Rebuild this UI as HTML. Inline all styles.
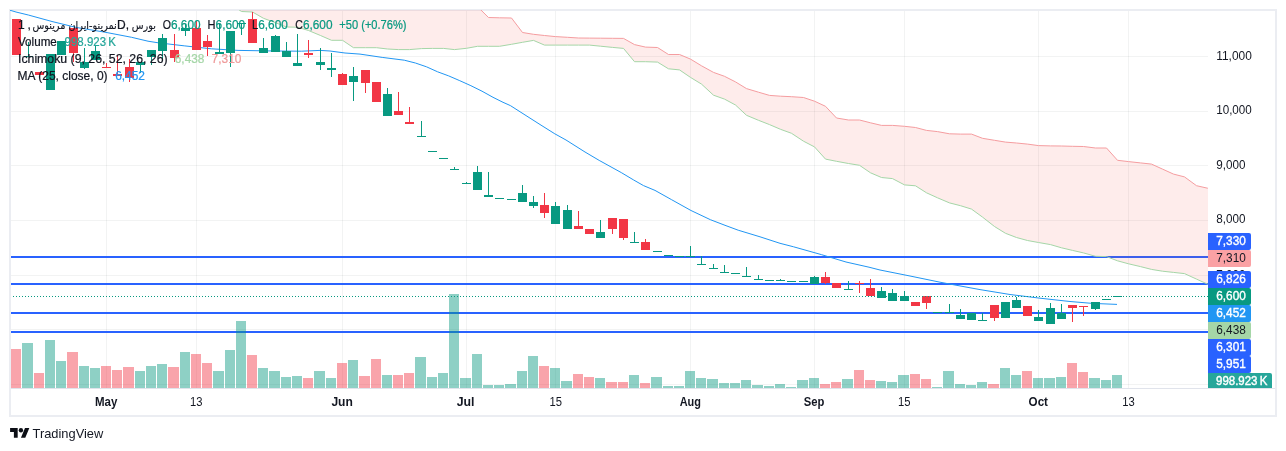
<!DOCTYPE html>
<html lang="en">
<head>
<meta charset="utf-8">
<title>TradingView Chart</title>
<style>
html,body{margin:0;padding:0;background:#fff;}
body{width:1286px;height:451px;position:relative;overflow:hidden;font-family:"Liberation Sans","DejaVu Sans",sans-serif;color:#131722;}
#frame{position:absolute;left:9px;top:9px;width:1264px;height:404px;border:2px solid #ebedf2;}
</style>
</head>
<body>
<div id="frame"></div>
<svg width="1286" height="451" viewBox="0 0 1286 451" style="position:absolute;left:0;top:0">
<defs><clipPath id="pane"><rect x="10" y="10" width="1198" height="378"/></clipPath></defs>
<g shape-rendering="crispEdges" fill="rgba(42,46,57,0.06)">
<rect x="106" y="11" width="1" height="377"/>
<rect x="196" y="11" width="1" height="377"/>
<rect x="342" y="11" width="1" height="377"/>
<rect x="466" y="11" width="1" height="377"/>
<rect x="555" y="11" width="1" height="377"/>
<rect x="690" y="11" width="1" height="377"/>
<rect x="814" y="11" width="1" height="377"/>
<rect x="904" y="11" width="1" height="377"/>
<rect x="1038" y="11" width="1" height="377"/>
<rect x="1128" y="11" width="1" height="377"/>
<rect x="11" y="56" width="1197" height="1"/>
<rect x="11" y="111" width="1197" height="1"/>
<rect x="11" y="165" width="1197" height="1"/>
<rect x="11" y="220" width="1197" height="1"/>
<rect x="11" y="275" width="1197" height="1"/>
<rect x="11" y="329" width="1197" height="1"/>
<rect x="11" y="384" width="1197" height="1"/>
</g>
<g shape-rendering="crispEdges" fill="#2962ff">
<rect x="11" y="256" width="1197" height="2"/>
<rect x="11" y="283" width="1197" height="2"/>
<rect x="11" y="312" width="1197" height="2"/>
<rect x="11" y="331" width="1197" height="2"/>
</g>
<g clip-path="url(#pane)">
<g shape-rendering="crispEdges">
<rect x="11" y="349" width="10" height="39" fill="rgba(242,54,69,0.45)"/>
<rect x="22" y="343" width="11" height="45" fill="rgba(8,153,129,0.46)"/>
<rect x="34" y="373" width="10" height="15" fill="rgba(242,54,69,0.45)"/>
<rect x="45" y="340" width="10" height="48" fill="rgba(8,153,129,0.46)"/>
<rect x="56" y="361" width="10" height="27" fill="rgba(8,153,129,0.46)"/>
<rect x="67" y="352" width="11" height="36" fill="rgba(242,54,69,0.45)"/>
<rect x="79" y="366" width="10" height="22" fill="rgba(8,153,129,0.46)"/>
<rect x="90" y="368" width="10" height="20" fill="rgba(8,153,129,0.46)"/>
<rect x="101" y="366" width="10" height="22" fill="rgba(242,54,69,0.45)"/>
<rect x="112" y="370" width="10" height="18" fill="rgba(242,54,69,0.45)"/>
<rect x="123" y="367" width="11" height="21" fill="rgba(242,54,69,0.45)"/>
<rect x="135" y="371" width="10" height="17" fill="rgba(8,153,129,0.46)"/>
<rect x="146" y="366" width="10" height="22" fill="rgba(8,153,129,0.46)"/>
<rect x="157" y="364" width="10" height="24" fill="rgba(8,153,129,0.46)"/>
<rect x="168" y="367" width="11" height="21" fill="rgba(242,54,69,0.45)"/>
<rect x="180" y="352" width="10" height="36" fill="rgba(8,153,129,0.46)"/>
<rect x="191" y="354" width="10" height="34" fill="rgba(242,54,69,0.45)"/>
<rect x="202" y="363" width="10" height="25" fill="rgba(242,54,69,0.45)"/>
<rect x="213" y="371" width="11" height="17" fill="rgba(8,153,129,0.46)"/>
<rect x="225" y="350" width="10" height="38" fill="rgba(8,153,129,0.46)"/>
<rect x="236" y="321" width="10" height="67" fill="rgba(8,153,129,0.46)"/>
<rect x="247" y="355" width="10" height="33" fill="rgba(242,54,69,0.45)"/>
<rect x="258" y="368" width="10" height="20" fill="rgba(8,153,129,0.46)"/>
<rect x="269" y="371" width="11" height="17" fill="rgba(8,153,129,0.46)"/>
<rect x="281" y="377" width="10" height="11" fill="rgba(8,153,129,0.46)"/>
<rect x="292" y="376" width="10" height="12" fill="rgba(8,153,129,0.46)"/>
<rect x="303" y="378" width="10" height="10" fill="rgba(242,54,69,0.45)"/>
<rect x="314" y="371" width="11" height="17" fill="rgba(8,153,129,0.46)"/>
<rect x="326" y="378" width="10" height="10" fill="rgba(8,153,129,0.46)"/>
<rect x="337" y="363" width="10" height="25" fill="rgba(242,54,69,0.45)"/>
<rect x="348" y="360" width="10" height="28" fill="rgba(8,153,129,0.46)"/>
<rect x="359" y="376" width="11" height="12" fill="rgba(242,54,69,0.45)"/>
<rect x="371" y="359" width="10" height="29" fill="rgba(242,54,69,0.45)"/>
<rect x="382" y="375" width="10" height="13" fill="rgba(8,153,129,0.46)"/>
<rect x="393" y="375" width="10" height="13" fill="rgba(242,54,69,0.45)"/>
<rect x="404" y="373" width="10" height="15" fill="rgba(242,54,69,0.45)"/>
<rect x="415" y="357" width="11" height="31" fill="rgba(8,153,129,0.46)"/>
<rect x="427" y="377" width="10" height="11" fill="rgba(8,153,129,0.46)"/>
<rect x="438" y="373" width="10" height="15" fill="rgba(8,153,129,0.46)"/>
<rect x="449" y="294" width="10" height="94" fill="rgba(8,153,129,0.46)"/>
<rect x="460" y="378" width="11" height="10" fill="rgba(8,153,129,0.46)"/>
<rect x="472" y="354" width="10" height="34" fill="rgba(8,153,129,0.46)"/>
<rect x="483" y="385" width="10" height="3" fill="rgba(8,153,129,0.46)"/>
<rect x="494" y="385" width="10" height="3" fill="rgba(8,153,129,0.46)"/>
<rect x="505" y="384" width="11" height="4" fill="rgba(8,153,129,0.46)"/>
<rect x="517" y="371" width="10" height="17" fill="rgba(8,153,129,0.46)"/>
<rect x="528" y="356" width="10" height="32" fill="rgba(8,153,129,0.46)"/>
<rect x="539" y="366" width="10" height="22" fill="rgba(242,54,69,0.45)"/>
<rect x="550" y="368" width="10" height="20" fill="rgba(8,153,129,0.46)"/>
<rect x="561" y="381" width="11" height="7" fill="rgba(8,153,129,0.46)"/>
<rect x="573" y="374" width="10" height="14" fill="rgba(242,54,69,0.45)"/>
<rect x="584" y="377" width="10" height="11" fill="rgba(242,54,69,0.45)"/>
<rect x="595" y="378" width="10" height="10" fill="rgba(8,153,129,0.46)"/>
<rect x="606" y="382" width="11" height="6" fill="rgba(242,54,69,0.45)"/>
<rect x="618" y="382" width="10" height="6" fill="rgba(242,54,69,0.45)"/>
<rect x="629" y="375" width="10" height="13" fill="rgba(8,153,129,0.46)"/>
<rect x="640" y="383" width="10" height="5" fill="rgba(242,54,69,0.45)"/>
<rect x="651" y="377" width="11" height="11" fill="rgba(8,153,129,0.46)"/>
<rect x="663" y="386" width="10" height="2" fill="rgba(8,153,129,0.46)"/>
<rect x="674" y="386" width="10" height="2" fill="rgba(8,153,129,0.46)"/>
<rect x="685" y="371" width="10" height="17" fill="rgba(8,153,129,0.46)"/>
<rect x="696" y="378" width="10" height="10" fill="rgba(8,153,129,0.46)"/>
<rect x="707" y="379" width="11" height="9" fill="rgba(8,153,129,0.46)"/>
<rect x="719" y="383" width="10" height="5" fill="rgba(8,153,129,0.46)"/>
<rect x="730" y="383" width="10" height="5" fill="rgba(8,153,129,0.46)"/>
<rect x="741" y="380" width="10" height="8" fill="rgba(8,153,129,0.46)"/>
<rect x="752" y="385" width="11" height="3" fill="rgba(8,153,129,0.46)"/>
<rect x="764" y="386" width="10" height="2" fill="rgba(8,153,129,0.46)"/>
<rect x="775" y="384" width="10" height="4" fill="rgba(8,153,129,0.46)"/>
<rect x="786" y="387" width="10" height="1" fill="rgba(8,153,129,0.46)"/>
<rect x="797" y="380" width="11" height="8" fill="rgba(8,153,129,0.46)"/>
<rect x="809" y="378" width="10" height="10" fill="rgba(8,153,129,0.46)"/>
<rect x="820" y="384" width="10" height="4" fill="rgba(242,54,69,0.45)"/>
<rect x="831" y="382" width="10" height="6" fill="rgba(242,54,69,0.45)"/>
<rect x="842" y="379" width="11" height="9" fill="rgba(8,153,129,0.46)"/>
<rect x="854" y="370" width="10" height="18" fill="rgba(242,54,69,0.45)"/>
<rect x="865" y="380" width="10" height="8" fill="rgba(242,54,69,0.45)"/>
<rect x="876" y="381" width="10" height="7" fill="rgba(8,153,129,0.46)"/>
<rect x="887" y="382" width="10" height="6" fill="rgba(8,153,129,0.46)"/>
<rect x="898" y="375" width="11" height="13" fill="rgba(8,153,129,0.46)"/>
<rect x="910" y="374" width="10" height="14" fill="rgba(242,54,69,0.45)"/>
<rect x="921" y="379" width="10" height="9" fill="rgba(242,54,69,0.45)"/>
<rect x="932" y="387" width="10" height="1" fill="rgba(8,153,129,0.46)"/>
<rect x="943" y="371" width="11" height="17" fill="rgba(8,153,129,0.46)"/>
<rect x="955" y="384" width="10" height="4" fill="rgba(8,153,129,0.46)"/>
<rect x="966" y="385" width="10" height="3" fill="rgba(8,153,129,0.46)"/>
<rect x="977" y="382" width="10" height="6" fill="rgba(8,153,129,0.46)"/>
<rect x="988" y="384" width="11" height="4" fill="rgba(242,54,69,0.45)"/>
<rect x="1000" y="368" width="10" height="20" fill="rgba(8,153,129,0.46)"/>
<rect x="1011" y="375" width="10" height="13" fill="rgba(8,153,129,0.46)"/>
<rect x="1022" y="371" width="10" height="17" fill="rgba(242,54,69,0.45)"/>
<rect x="1033" y="378" width="10" height="10" fill="rgba(8,153,129,0.46)"/>
<rect x="1044" y="378" width="11" height="10" fill="rgba(8,153,129,0.46)"/>
<rect x="1056" y="377" width="10" height="11" fill="rgba(8,153,129,0.46)"/>
<rect x="1067" y="363" width="10" height="25" fill="rgba(242,54,69,0.45)"/>
<rect x="1078" y="372" width="10" height="16" fill="rgba(242,54,69,0.45)"/>
<rect x="1089" y="378" width="11" height="10" fill="rgba(8,153,129,0.46)"/>
<rect x="1101" y="380" width="10" height="8" fill="rgba(8,153,129,0.46)"/>
<rect x="1112" y="375" width="10" height="13" fill="rgba(8,153,129,0.46)"/>
</g>
<polyline points="9.5,10.1 16.0,12.0 28.3,15.0 52.0,21.5 76.6,27.5 105.0,32.2 131.6,37.3 148.0,41.2 158.2,42.8 184.8,45.9 211.4,48.8 238.0,50.4 275.0,51.0 301.5,51.2 320.0,50.4 330.0,51.0 345.0,53.0 360.0,54.1 382.2,57.4 404.3,60.2 415.4,63.0 426.5,66.8 437.6,71.8 448.7,75.9 459.8,80.7 470.9,85.7 482.0,91.2 493.0,97.3 503.0,102.3 510.4,105.6 540.0,124.5 554.8,133.8 566.0,140.0 585.0,152.0 599.2,160.4 621.3,172.6 633.7,180.0 643.5,185.6 655.0,190.4 671.6,199.7 691.0,210.5 710.4,219.7 725.0,225.3 738.2,230.2 760.0,236.8 780.0,243.3 793.6,246.8 821.3,254.6 846.0,262.0 869.0,267.2 880.0,270.0 910.0,276.0 940.0,282.2 950.0,284.1 980.0,289.6 1010.0,294.5 1040.0,298.2 1070.0,301.5 1090.0,303.2 1100.0,303.7 1117.0,304.4" fill="none" stroke="#2196f3" stroke-width="1" stroke-linejoin="round"/>
<polygon points="230.5,-20.0 241.5,-20.0 252.5,-20.0 263.5,-20.0 275.5,-20.0 286.5,-20.0 297.5,-20.0 308.5,-20.0 320.5,-20.0 331.5,-20.0 342.5,-20.0 353.5,-20.0 365.5,-20.0 376.5,-20.0 387.5,-20.0 398.5,-20.0 409.5,-20.0 421.5,-20.0 432.5,-20.0 443.5,-20.0 454.5,-20.0 466.5,-20.0 477.5,6.6 488.5,17.5 499.5,17.8 511.5,18.0 522.5,32.5 533.5,34.3 544.5,35.5 555.5,36.6 567.5,37.3 578.5,38.0 589.5,38.1 600.5,38.2 612.5,38.3 623.5,38.4 634.5,44.6 645.5,47.1 657.5,47.5 668.5,54.5 679.5,54.5 690.5,59.1 701.5,65.8 713.5,72.4 724.5,76.3 735.5,81.9 746.5,88.6 758.5,92.2 769.5,95.4 780.5,96.2 791.5,96.7 803.5,97.5 814.5,101.2 825.5,106.3 836.5,118.0 848.5,120.0 859.5,120.0 870.5,122.8 881.5,125.4 892.5,125.4 904.5,126.3 915.5,127.5 926.5,130.4 937.5,131.6 949.5,133.8 960.5,134.1 971.5,134.1 982.5,138.3 994.5,140.3 1005.5,142.1 1016.5,143.0 1027.5,144.1 1038.5,145.6 1050.5,145.9 1061.5,146.0 1072.5,146.3 1083.5,146.5 1095.5,148.0 1106.5,148.0 1117.5,160.3 1128.5,161.6 1140.5,162.9 1151.5,164.1 1162.5,169.1 1173.5,174.1 1184.5,176.9 1196.5,185.7 1207.5,188.2 1218.5,190.0 1218.5,289.0 1207.5,284.1 1196.5,279.1 1184.5,273.6 1173.5,272.4 1162.5,271.2 1151.5,269.4 1140.5,266.6 1128.5,263.8 1117.5,260.8 1106.5,256.6 1095.5,256.3 1083.5,252.9 1072.5,250.4 1061.5,247.8 1050.5,244.6 1038.5,242.5 1027.5,240.5 1016.5,237.5 1005.5,233.3 994.5,226.5 982.5,217.1 971.5,209.1 960.5,205.7 949.5,202.9 937.5,197.8 926.5,192.8 915.5,185.8 904.5,184.9 892.5,178.6 881.5,177.5 870.5,172.8 859.5,165.3 848.5,163.5 836.5,161.3 825.5,159.1 814.5,146.9 803.5,141.2 791.5,133.3 780.5,129.3 769.5,124.6 758.5,120.3 746.5,115.3 735.5,105.0 724.5,99.1 713.5,95.2 701.5,84.1 690.5,77.4 679.5,69.9 668.5,68.8 657.5,62.1 645.5,61.7 634.5,61.7 623.5,48.4 612.5,47.4 600.5,46.2 589.5,45.1 578.5,45.1 567.5,45.1 555.5,45.1 544.5,45.1 533.5,40.4 522.5,42.3 511.5,44.3 499.5,46.3 488.5,46.3 477.5,46.3 466.5,48.3 454.5,49.6 443.5,48.4 432.5,48.4 421.5,48.6 409.5,49.6 398.5,49.6 387.5,49.0 376.5,47.7 365.5,47.7 353.5,47.7 342.5,40.3 331.5,40.3 320.5,35.5 308.5,30.5 297.5,27.2 286.5,27.0 275.5,22.7 263.5,18.3 252.5,12.0 241.5,11.5 230.5,4.0" fill="rgba(244,67,54,0.1)"/>
<polyline points="230.5,-20.0 241.5,-20.0 252.5,-20.0 263.5,-20.0 275.5,-20.0 286.5,-20.0 297.5,-20.0 308.5,-20.0 320.5,-20.0 331.5,-20.0 342.5,-20.0 353.5,-20.0 365.5,-20.0 376.5,-20.0 387.5,-20.0 398.5,-20.0 409.5,-20.0 421.5,-20.0 432.5,-20.0 443.5,-20.0 454.5,-20.0 466.5,-20.0 477.5,6.6 488.5,17.5 499.5,17.8 511.5,18.0 522.5,32.5 533.5,34.3 544.5,35.5 555.5,36.6 567.5,37.3 578.5,38.0 589.5,38.1 600.5,38.2 612.5,38.3 623.5,38.4 634.5,44.6 645.5,47.1 657.5,47.5 668.5,54.5 679.5,54.5 690.5,59.1 701.5,65.8 713.5,72.4 724.5,76.3 735.5,81.9 746.5,88.6 758.5,92.2 769.5,95.4 780.5,96.2 791.5,96.7 803.5,97.5 814.5,101.2 825.5,106.3 836.5,118.0 848.5,120.0 859.5,120.0 870.5,122.8 881.5,125.4 892.5,125.4 904.5,126.3 915.5,127.5 926.5,130.4 937.5,131.6 949.5,133.8 960.5,134.1 971.5,134.1 982.5,138.3 994.5,140.3 1005.5,142.1 1016.5,143.0 1027.5,144.1 1038.5,145.6 1050.5,145.9 1061.5,146.0 1072.5,146.3 1083.5,146.5 1095.5,148.0 1106.5,148.0 1117.5,160.3 1128.5,161.6 1140.5,162.9 1151.5,164.1 1162.5,169.1 1173.5,174.1 1184.5,176.9 1196.5,185.7 1207.5,188.2 1218.5,190.0" fill="none" stroke="#f59da0" stroke-width="1"/>
<polyline points="230.5,4.0 241.5,11.5 252.5,12.0 263.5,18.3 275.5,22.7 286.5,27.0 297.5,27.2 308.5,30.5 320.5,35.5 331.5,40.3 342.5,40.3 353.5,47.7 365.5,47.7 376.5,47.7 387.5,49.0 398.5,49.6 409.5,49.6 421.5,48.6 432.5,48.4 443.5,48.4 454.5,49.6 466.5,48.3 477.5,46.3 488.5,46.3 499.5,46.3 511.5,44.3 522.5,42.3 533.5,40.4 544.5,45.1 555.5,45.1 567.5,45.1 578.5,45.1 589.5,45.1 600.5,46.2 612.5,47.4 623.5,48.4 634.5,61.7 645.5,61.7 657.5,62.1 668.5,68.8 679.5,69.9 690.5,77.4 701.5,84.1 713.5,95.2 724.5,99.1 735.5,105.0 746.5,115.3 758.5,120.3 769.5,124.6 780.5,129.3 791.5,133.3 803.5,141.2 814.5,146.9 825.5,159.1 836.5,161.3 848.5,163.5 859.5,165.3 870.5,172.8 881.5,177.5 892.5,178.6 904.5,184.9 915.5,185.8 926.5,192.8 937.5,197.8 949.5,202.9 960.5,205.7 971.5,209.1 982.5,217.1 994.5,226.5 1005.5,233.3 1016.5,237.5 1027.5,240.5 1038.5,242.5 1050.5,244.6 1061.5,247.8 1072.5,250.4 1083.5,252.9 1095.5,256.3 1106.5,256.6 1117.5,260.8 1128.5,263.8 1140.5,266.6 1151.5,269.4 1162.5,271.2 1173.5,272.4 1184.5,273.6 1196.5,279.1 1207.5,284.1 1218.5,289.0" fill="none" stroke="#a5d6a7" stroke-width="1"/>
<g shape-rendering="crispEdges">
<rect x="12" y="19" width="9" height="36" fill="#f23645"/>
<rect x="28" y="42" width="1" height="15" fill="#089981"/>
<rect x="24" y="56" width="9" height="1" fill="#089981"/>
<rect x="35" y="72" width="9" height="3" fill="#f23645"/>
<rect x="46" y="54" width="9" height="36" fill="#089981"/>
<rect x="57" y="41" width="9" height="14" fill="#089981"/>
<rect x="73" y="28" width="1" height="34" fill="#f23645"/>
<rect x="69" y="28" width="9" height="25" fill="#f23645"/>
<rect x="84" y="48" width="1" height="21" fill="#089981"/>
<rect x="80" y="62" width="9" height="6" fill="#089981"/>
<rect x="95" y="45" width="1" height="15" fill="#089981"/>
<rect x="91" y="51" width="9" height="9" fill="#089981"/>
<rect x="106" y="63" width="1" height="5" fill="#f23645"/>
<rect x="102" y="67" width="9" height="1" fill="#f23645"/>
<rect x="117" y="55" width="1" height="21" fill="#f23645"/>
<rect x="113" y="74" width="9" height="2" fill="#f23645"/>
<rect x="129" y="59" width="1" height="23" fill="#f23645"/>
<rect x="125" y="67" width="9" height="11" fill="#f23645"/>
<rect x="140" y="62" width="1" height="11" fill="#089981"/>
<rect x="136" y="62" width="9" height="3" fill="#089981"/>
<rect x="151" y="50" width="1" height="15" fill="#089981"/>
<rect x="147" y="50" width="9" height="7" fill="#089981"/>
<rect x="162" y="34" width="1" height="27" fill="#089981"/>
<rect x="158" y="38" width="9" height="13" fill="#089981"/>
<rect x="174" y="34" width="1" height="28" fill="#f23645"/>
<rect x="170" y="50" width="9" height="8" fill="#f23645"/>
<rect x="185" y="24" width="1" height="12" fill="#089981"/>
<rect x="181" y="28" width="9" height="3" fill="#089981"/>
<rect x="196" y="21" width="1" height="29" fill="#f23645"/>
<rect x="192" y="28" width="9" height="22" fill="#f23645"/>
<rect x="207" y="35" width="1" height="21" fill="#f23645"/>
<rect x="203" y="41" width="9" height="6" fill="#f23645"/>
<rect x="219" y="24" width="1" height="30" fill="#089981"/>
<rect x="215" y="52" width="9" height="2" fill="#089981"/>
<rect x="230" y="31" width="1" height="36" fill="#089981"/>
<rect x="226" y="31" width="9" height="22" fill="#089981"/>
<rect x="241" y="23" width="1" height="12" fill="#089981"/>
<rect x="237" y="23" width="9" height="1" fill="#089981"/>
<rect x="252" y="12" width="1" height="31" fill="#f23645"/>
<rect x="248" y="19" width="9" height="24" fill="#f23645"/>
<rect x="263" y="38" width="1" height="15" fill="#089981"/>
<rect x="259" y="48" width="9" height="5" fill="#089981"/>
<rect x="275" y="35" width="1" height="17" fill="#089981"/>
<rect x="271" y="36" width="9" height="16" fill="#089981"/>
<rect x="286" y="42" width="1" height="15" fill="#089981"/>
<rect x="282" y="51" width="9" height="6" fill="#089981"/>
<rect x="297" y="34" width="1" height="32" fill="#089981"/>
<rect x="293" y="63" width="9" height="3" fill="#089981"/>
<rect x="308" y="40" width="1" height="18" fill="#f23645"/>
<rect x="304" y="53" width="9" height="2" fill="#f23645"/>
<rect x="320" y="48" width="1" height="22" fill="#089981"/>
<rect x="316" y="62" width="9" height="3" fill="#089981"/>
<rect x="331" y="53" width="1" height="24" fill="#089981"/>
<rect x="327" y="68" width="9" height="2" fill="#089981"/>
<rect x="342" y="73" width="1" height="12" fill="#f23645"/>
<rect x="338" y="74" width="9" height="11" fill="#f23645"/>
<rect x="353" y="67" width="1" height="34" fill="#089981"/>
<rect x="349" y="76" width="9" height="6" fill="#089981"/>
<rect x="365" y="70" width="1" height="23" fill="#f23645"/>
<rect x="361" y="70" width="9" height="13" fill="#f23645"/>
<rect x="372" y="82" width="9" height="20" fill="#f23645"/>
<rect x="387" y="88" width="1" height="28" fill="#089981"/>
<rect x="383" y="94" width="9" height="22" fill="#089981"/>
<rect x="398" y="92" width="1" height="23" fill="#f23645"/>
<rect x="394" y="111" width="9" height="4" fill="#f23645"/>
<rect x="409" y="107" width="1" height="17" fill="#f23645"/>
<rect x="405" y="122" width="9" height="2" fill="#f23645"/>
<rect x="421" y="121" width="1" height="16" fill="#089981"/>
<rect x="417" y="136" width="9" height="1" fill="#089981"/>
<rect x="428" y="151" width="9" height="1" fill="#089981"/>
<rect x="439" y="158" width="9" height="1" fill="#089981"/>
<rect x="454" y="167" width="1" height="3" fill="#089981"/>
<rect x="450" y="169" width="9" height="1" fill="#089981"/>
<rect x="466" y="182" width="1" height="2" fill="#089981"/>
<rect x="462" y="183" width="9" height="1" fill="#089981"/>
<rect x="477" y="166" width="1" height="24" fill="#089981"/>
<rect x="473" y="172" width="9" height="18" fill="#089981"/>
<rect x="488" y="172" width="1" height="25" fill="#089981"/>
<rect x="484" y="195" width="9" height="2" fill="#089981"/>
<rect x="495" y="198" width="9" height="1" fill="#089981"/>
<rect x="507" y="199" width="9" height="1" fill="#089981"/>
<rect x="522" y="185" width="1" height="17" fill="#089981"/>
<rect x="518" y="193" width="9" height="9" fill="#089981"/>
<rect x="533" y="196" width="1" height="12" fill="#089981"/>
<rect x="529" y="202" width="9" height="4" fill="#089981"/>
<rect x="544" y="193" width="1" height="25" fill="#f23645"/>
<rect x="540" y="205" width="9" height="8" fill="#f23645"/>
<rect x="555" y="202" width="1" height="22" fill="#089981"/>
<rect x="551" y="206" width="9" height="18" fill="#089981"/>
<rect x="567" y="205" width="1" height="24" fill="#089981"/>
<rect x="563" y="210" width="9" height="19" fill="#089981"/>
<rect x="578" y="211" width="1" height="18" fill="#f23645"/>
<rect x="574" y="226" width="9" height="3" fill="#f23645"/>
<rect x="585" y="229" width="9" height="5" fill="#f23645"/>
<rect x="600" y="220" width="1" height="18" fill="#089981"/>
<rect x="596" y="232" width="9" height="6" fill="#089981"/>
<rect x="612" y="218" width="1" height="16" fill="#f23645"/>
<rect x="608" y="218" width="9" height="11" fill="#f23645"/>
<rect x="623" y="219" width="1" height="21" fill="#f23645"/>
<rect x="619" y="219" width="9" height="19" fill="#f23645"/>
<rect x="634" y="232" width="1" height="11" fill="#089981"/>
<rect x="630" y="242" width="9" height="1" fill="#089981"/>
<rect x="645" y="239" width="1" height="11" fill="#f23645"/>
<rect x="641" y="242" width="9" height="8" fill="#f23645"/>
<rect x="653" y="251" width="9" height="1" fill="#089981"/>
<rect x="664" y="255" width="9" height="1" fill="#089981"/>
<rect x="675" y="256" width="9" height="1" fill="#089981"/>
<rect x="690" y="246" width="1" height="11" fill="#089981"/>
<rect x="686" y="256" width="9" height="1" fill="#089981"/>
<rect x="701" y="256" width="1" height="9" fill="#089981"/>
<rect x="697" y="264" width="9" height="1" fill="#089981"/>
<rect x="713" y="264" width="1" height="5" fill="#089981"/>
<rect x="709" y="268" width="9" height="1" fill="#089981"/>
<rect x="724" y="265" width="1" height="8" fill="#089981"/>
<rect x="720" y="272" width="9" height="1" fill="#089981"/>
<rect x="731" y="273" width="9" height="1" fill="#089981"/>
<rect x="746" y="267" width="1" height="10" fill="#089981"/>
<rect x="742" y="276" width="9" height="1" fill="#089981"/>
<rect x="758" y="275" width="1" height="5" fill="#089981"/>
<rect x="754" y="279" width="9" height="1" fill="#089981"/>
<rect x="765" y="280" width="9" height="1" fill="#089981"/>
<rect x="780" y="279" width="1" height="2" fill="#089981"/>
<rect x="776" y="280" width="9" height="1" fill="#089981"/>
<rect x="787" y="281" width="9" height="1" fill="#089981"/>
<rect x="799" y="281" width="9" height="1" fill="#089981"/>
<rect x="814" y="276" width="1" height="8" fill="#089981"/>
<rect x="810" y="277" width="9" height="7" fill="#089981"/>
<rect x="825" y="272" width="1" height="12" fill="#f23645"/>
<rect x="821" y="277" width="9" height="6" fill="#f23645"/>
<rect x="832" y="283" width="9" height="5" fill="#f23645"/>
<rect x="848" y="281" width="1" height="9" fill="#089981"/>
<rect x="844" y="289" width="9" height="1" fill="#089981"/>
<rect x="859" y="281" width="1" height="12" fill="#f23645"/>
<rect x="855" y="283" width="9" height="1" fill="#f23645"/>
<rect x="870" y="279" width="1" height="17" fill="#f23645"/>
<rect x="866" y="288" width="9" height="8" fill="#f23645"/>
<rect x="881" y="287" width="1" height="11" fill="#089981"/>
<rect x="877" y="291" width="9" height="7" fill="#089981"/>
<rect x="892" y="289" width="1" height="12" fill="#089981"/>
<rect x="888" y="293" width="9" height="8" fill="#089981"/>
<rect x="904" y="291" width="1" height="10" fill="#089981"/>
<rect x="900" y="296" width="9" height="5" fill="#089981"/>
<rect x="911" y="302" width="9" height="4" fill="#f23645"/>
<rect x="926" y="296" width="1" height="13" fill="#f23645"/>
<rect x="922" y="296" width="9" height="7" fill="#f23645"/>
<rect x="933" y="312" width="9" height="1" fill="#089981"/>
<rect x="949" y="304" width="1" height="9" fill="#089981"/>
<rect x="945" y="312" width="9" height="1" fill="#089981"/>
<rect x="960" y="309" width="1" height="10" fill="#089981"/>
<rect x="956" y="315" width="9" height="4" fill="#089981"/>
<rect x="967" y="313" width="9" height="7" fill="#089981"/>
<rect x="982" y="313" width="1" height="8" fill="#089981"/>
<rect x="978" y="320" width="9" height="1" fill="#089981"/>
<rect x="994" y="305" width="1" height="16" fill="#f23645"/>
<rect x="990" y="305" width="9" height="13" fill="#f23645"/>
<rect x="1001" y="302" width="9" height="16" fill="#089981"/>
<rect x="1016" y="297" width="1" height="11" fill="#089981"/>
<rect x="1012" y="300" width="9" height="8" fill="#089981"/>
<rect x="1023" y="306" width="9" height="10" fill="#f23645"/>
<rect x="1038" y="310" width="1" height="11" fill="#089981"/>
<rect x="1034" y="317" width="9" height="4" fill="#089981"/>
<rect x="1050" y="303" width="1" height="21" fill="#089981"/>
<rect x="1046" y="308" width="9" height="16" fill="#089981"/>
<rect x="1061" y="304" width="1" height="15" fill="#089981"/>
<rect x="1057" y="313" width="9" height="6" fill="#089981"/>
<rect x="1072" y="305" width="1" height="17" fill="#f23645"/>
<rect x="1068" y="305" width="9" height="3" fill="#f23645"/>
<rect x="1083" y="306" width="1" height="10" fill="#f23645"/>
<rect x="1079" y="306" width="9" height="1" fill="#f23645"/>
<rect x="1095" y="302" width="1" height="8" fill="#089981"/>
<rect x="1091" y="302" width="9" height="7" fill="#089981"/>
<rect x="1102" y="299" width="9" height="1" fill="#089981"/>
<rect x="1113" y="296" width="9" height="1" fill="#089981"/>
</g>
<g shape-rendering="crispEdges" fill="#089981">
<rect x="13" y="296" width="1" height="1"/><rect x="16" y="296" width="1" height="1"/><rect x="19" y="296" width="1" height="1"/><rect x="22" y="296" width="1" height="1"/><rect x="25" y="296" width="1" height="1"/><rect x="28" y="296" width="1" height="1"/><rect x="31" y="296" width="1" height="1"/><rect x="34" y="296" width="1" height="1"/><rect x="37" y="296" width="1" height="1"/><rect x="40" y="296" width="1" height="1"/><rect x="43" y="296" width="1" height="1"/><rect x="46" y="296" width="1" height="1"/><rect x="49" y="296" width="1" height="1"/><rect x="52" y="296" width="1" height="1"/><rect x="55" y="296" width="1" height="1"/><rect x="58" y="296" width="1" height="1"/><rect x="61" y="296" width="1" height="1"/><rect x="64" y="296" width="1" height="1"/><rect x="67" y="296" width="1" height="1"/><rect x="70" y="296" width="1" height="1"/><rect x="73" y="296" width="1" height="1"/><rect x="76" y="296" width="1" height="1"/><rect x="79" y="296" width="1" height="1"/><rect x="82" y="296" width="1" height="1"/><rect x="85" y="296" width="1" height="1"/><rect x="88" y="296" width="1" height="1"/><rect x="91" y="296" width="1" height="1"/><rect x="94" y="296" width="1" height="1"/><rect x="97" y="296" width="1" height="1"/><rect x="100" y="296" width="1" height="1"/><rect x="103" y="296" width="1" height="1"/><rect x="106" y="296" width="1" height="1"/><rect x="109" y="296" width="1" height="1"/><rect x="112" y="296" width="1" height="1"/><rect x="115" y="296" width="1" height="1"/><rect x="118" y="296" width="1" height="1"/><rect x="121" y="296" width="1" height="1"/><rect x="124" y="296" width="1" height="1"/><rect x="127" y="296" width="1" height="1"/><rect x="130" y="296" width="1" height="1"/><rect x="133" y="296" width="1" height="1"/><rect x="136" y="296" width="1" height="1"/><rect x="139" y="296" width="1" height="1"/><rect x="142" y="296" width="1" height="1"/><rect x="145" y="296" width="1" height="1"/><rect x="148" y="296" width="1" height="1"/><rect x="151" y="296" width="1" height="1"/><rect x="154" y="296" width="1" height="1"/><rect x="157" y="296" width="1" height="1"/><rect x="160" y="296" width="1" height="1"/><rect x="163" y="296" width="1" height="1"/><rect x="166" y="296" width="1" height="1"/><rect x="169" y="296" width="1" height="1"/><rect x="172" y="296" width="1" height="1"/><rect x="175" y="296" width="1" height="1"/><rect x="178" y="296" width="1" height="1"/><rect x="181" y="296" width="1" height="1"/><rect x="184" y="296" width="1" height="1"/><rect x="187" y="296" width="1" height="1"/><rect x="190" y="296" width="1" height="1"/><rect x="193" y="296" width="1" height="1"/><rect x="196" y="296" width="1" height="1"/><rect x="199" y="296" width="1" height="1"/><rect x="202" y="296" width="1" height="1"/><rect x="205" y="296" width="1" height="1"/><rect x="208" y="296" width="1" height="1"/><rect x="211" y="296" width="1" height="1"/><rect x="214" y="296" width="1" height="1"/><rect x="217" y="296" width="1" height="1"/><rect x="220" y="296" width="1" height="1"/><rect x="223" y="296" width="1" height="1"/><rect x="226" y="296" width="1" height="1"/><rect x="229" y="296" width="1" height="1"/><rect x="232" y="296" width="1" height="1"/><rect x="235" y="296" width="1" height="1"/><rect x="238" y="296" width="1" height="1"/><rect x="241" y="296" width="1" height="1"/><rect x="244" y="296" width="1" height="1"/><rect x="247" y="296" width="1" height="1"/><rect x="250" y="296" width="1" height="1"/><rect x="253" y="296" width="1" height="1"/><rect x="256" y="296" width="1" height="1"/><rect x="259" y="296" width="1" height="1"/><rect x="262" y="296" width="1" height="1"/><rect x="265" y="296" width="1" height="1"/><rect x="268" y="296" width="1" height="1"/><rect x="271" y="296" width="1" height="1"/><rect x="274" y="296" width="1" height="1"/><rect x="277" y="296" width="1" height="1"/><rect x="280" y="296" width="1" height="1"/><rect x="283" y="296" width="1" height="1"/><rect x="286" y="296" width="1" height="1"/><rect x="289" y="296" width="1" height="1"/><rect x="292" y="296" width="1" height="1"/><rect x="295" y="296" width="1" height="1"/><rect x="298" y="296" width="1" height="1"/><rect x="301" y="296" width="1" height="1"/><rect x="304" y="296" width="1" height="1"/><rect x="307" y="296" width="1" height="1"/><rect x="310" y="296" width="1" height="1"/><rect x="313" y="296" width="1" height="1"/><rect x="316" y="296" width="1" height="1"/><rect x="319" y="296" width="1" height="1"/><rect x="322" y="296" width="1" height="1"/><rect x="325" y="296" width="1" height="1"/><rect x="328" y="296" width="1" height="1"/><rect x="331" y="296" width="1" height="1"/><rect x="334" y="296" width="1" height="1"/><rect x="337" y="296" width="1" height="1"/><rect x="340" y="296" width="1" height="1"/><rect x="343" y="296" width="1" height="1"/><rect x="346" y="296" width="1" height="1"/><rect x="349" y="296" width="1" height="1"/><rect x="352" y="296" width="1" height="1"/><rect x="355" y="296" width="1" height="1"/><rect x="358" y="296" width="1" height="1"/><rect x="361" y="296" width="1" height="1"/><rect x="364" y="296" width="1" height="1"/><rect x="367" y="296" width="1" height="1"/><rect x="370" y="296" width="1" height="1"/><rect x="373" y="296" width="1" height="1"/><rect x="376" y="296" width="1" height="1"/><rect x="379" y="296" width="1" height="1"/><rect x="382" y="296" width="1" height="1"/><rect x="385" y="296" width="1" height="1"/><rect x="388" y="296" width="1" height="1"/><rect x="391" y="296" width="1" height="1"/><rect x="394" y="296" width="1" height="1"/><rect x="397" y="296" width="1" height="1"/><rect x="400" y="296" width="1" height="1"/><rect x="403" y="296" width="1" height="1"/><rect x="406" y="296" width="1" height="1"/><rect x="409" y="296" width="1" height="1"/><rect x="412" y="296" width="1" height="1"/><rect x="415" y="296" width="1" height="1"/><rect x="418" y="296" width="1" height="1"/><rect x="421" y="296" width="1" height="1"/><rect x="424" y="296" width="1" height="1"/><rect x="427" y="296" width="1" height="1"/><rect x="430" y="296" width="1" height="1"/><rect x="433" y="296" width="1" height="1"/><rect x="436" y="296" width="1" height="1"/><rect x="439" y="296" width="1" height="1"/><rect x="442" y="296" width="1" height="1"/><rect x="445" y="296" width="1" height="1"/><rect x="448" y="296" width="1" height="1"/><rect x="451" y="296" width="1" height="1"/><rect x="454" y="296" width="1" height="1"/><rect x="457" y="296" width="1" height="1"/><rect x="460" y="296" width="1" height="1"/><rect x="463" y="296" width="1" height="1"/><rect x="466" y="296" width="1" height="1"/><rect x="469" y="296" width="1" height="1"/><rect x="472" y="296" width="1" height="1"/><rect x="475" y="296" width="1" height="1"/><rect x="478" y="296" width="1" height="1"/><rect x="481" y="296" width="1" height="1"/><rect x="484" y="296" width="1" height="1"/><rect x="487" y="296" width="1" height="1"/><rect x="490" y="296" width="1" height="1"/><rect x="493" y="296" width="1" height="1"/><rect x="496" y="296" width="1" height="1"/><rect x="499" y="296" width="1" height="1"/><rect x="502" y="296" width="1" height="1"/><rect x="505" y="296" width="1" height="1"/><rect x="508" y="296" width="1" height="1"/><rect x="511" y="296" width="1" height="1"/><rect x="514" y="296" width="1" height="1"/><rect x="517" y="296" width="1" height="1"/><rect x="520" y="296" width="1" height="1"/><rect x="523" y="296" width="1" height="1"/><rect x="526" y="296" width="1" height="1"/><rect x="529" y="296" width="1" height="1"/><rect x="532" y="296" width="1" height="1"/><rect x="535" y="296" width="1" height="1"/><rect x="538" y="296" width="1" height="1"/><rect x="541" y="296" width="1" height="1"/><rect x="544" y="296" width="1" height="1"/><rect x="547" y="296" width="1" height="1"/><rect x="550" y="296" width="1" height="1"/><rect x="553" y="296" width="1" height="1"/><rect x="556" y="296" width="1" height="1"/><rect x="559" y="296" width="1" height="1"/><rect x="562" y="296" width="1" height="1"/><rect x="565" y="296" width="1" height="1"/><rect x="568" y="296" width="1" height="1"/><rect x="571" y="296" width="1" height="1"/><rect x="574" y="296" width="1" height="1"/><rect x="577" y="296" width="1" height="1"/><rect x="580" y="296" width="1" height="1"/><rect x="583" y="296" width="1" height="1"/><rect x="586" y="296" width="1" height="1"/><rect x="589" y="296" width="1" height="1"/><rect x="592" y="296" width="1" height="1"/><rect x="595" y="296" width="1" height="1"/><rect x="598" y="296" width="1" height="1"/><rect x="601" y="296" width="1" height="1"/><rect x="604" y="296" width="1" height="1"/><rect x="607" y="296" width="1" height="1"/><rect x="610" y="296" width="1" height="1"/><rect x="613" y="296" width="1" height="1"/><rect x="616" y="296" width="1" height="1"/><rect x="619" y="296" width="1" height="1"/><rect x="622" y="296" width="1" height="1"/><rect x="625" y="296" width="1" height="1"/><rect x="628" y="296" width="1" height="1"/><rect x="631" y="296" width="1" height="1"/><rect x="634" y="296" width="1" height="1"/><rect x="637" y="296" width="1" height="1"/><rect x="640" y="296" width="1" height="1"/><rect x="643" y="296" width="1" height="1"/><rect x="646" y="296" width="1" height="1"/><rect x="649" y="296" width="1" height="1"/><rect x="652" y="296" width="1" height="1"/><rect x="655" y="296" width="1" height="1"/><rect x="658" y="296" width="1" height="1"/><rect x="661" y="296" width="1" height="1"/><rect x="664" y="296" width="1" height="1"/><rect x="667" y="296" width="1" height="1"/><rect x="670" y="296" width="1" height="1"/><rect x="673" y="296" width="1" height="1"/><rect x="676" y="296" width="1" height="1"/><rect x="679" y="296" width="1" height="1"/><rect x="682" y="296" width="1" height="1"/><rect x="685" y="296" width="1" height="1"/><rect x="688" y="296" width="1" height="1"/><rect x="691" y="296" width="1" height="1"/><rect x="694" y="296" width="1" height="1"/><rect x="697" y="296" width="1" height="1"/><rect x="700" y="296" width="1" height="1"/><rect x="703" y="296" width="1" height="1"/><rect x="706" y="296" width="1" height="1"/><rect x="709" y="296" width="1" height="1"/><rect x="712" y="296" width="1" height="1"/><rect x="715" y="296" width="1" height="1"/><rect x="718" y="296" width="1" height="1"/><rect x="721" y="296" width="1" height="1"/><rect x="724" y="296" width="1" height="1"/><rect x="727" y="296" width="1" height="1"/><rect x="730" y="296" width="1" height="1"/><rect x="733" y="296" width="1" height="1"/><rect x="736" y="296" width="1" height="1"/><rect x="739" y="296" width="1" height="1"/><rect x="742" y="296" width="1" height="1"/><rect x="745" y="296" width="1" height="1"/><rect x="748" y="296" width="1" height="1"/><rect x="751" y="296" width="1" height="1"/><rect x="754" y="296" width="1" height="1"/><rect x="757" y="296" width="1" height="1"/><rect x="760" y="296" width="1" height="1"/><rect x="763" y="296" width="1" height="1"/><rect x="766" y="296" width="1" height="1"/><rect x="769" y="296" width="1" height="1"/><rect x="772" y="296" width="1" height="1"/><rect x="775" y="296" width="1" height="1"/><rect x="778" y="296" width="1" height="1"/><rect x="781" y="296" width="1" height="1"/><rect x="784" y="296" width="1" height="1"/><rect x="787" y="296" width="1" height="1"/><rect x="790" y="296" width="1" height="1"/><rect x="793" y="296" width="1" height="1"/><rect x="796" y="296" width="1" height="1"/><rect x="799" y="296" width="1" height="1"/><rect x="802" y="296" width="1" height="1"/><rect x="805" y="296" width="1" height="1"/><rect x="808" y="296" width="1" height="1"/><rect x="811" y="296" width="1" height="1"/><rect x="814" y="296" width="1" height="1"/><rect x="817" y="296" width="1" height="1"/><rect x="820" y="296" width="1" height="1"/><rect x="823" y="296" width="1" height="1"/><rect x="826" y="296" width="1" height="1"/><rect x="829" y="296" width="1" height="1"/><rect x="832" y="296" width="1" height="1"/><rect x="835" y="296" width="1" height="1"/><rect x="838" y="296" width="1" height="1"/><rect x="841" y="296" width="1" height="1"/><rect x="844" y="296" width="1" height="1"/><rect x="847" y="296" width="1" height="1"/><rect x="850" y="296" width="1" height="1"/><rect x="853" y="296" width="1" height="1"/><rect x="856" y="296" width="1" height="1"/><rect x="859" y="296" width="1" height="1"/><rect x="862" y="296" width="1" height="1"/><rect x="865" y="296" width="1" height="1"/><rect x="868" y="296" width="1" height="1"/><rect x="871" y="296" width="1" height="1"/><rect x="874" y="296" width="1" height="1"/><rect x="877" y="296" width="1" height="1"/><rect x="880" y="296" width="1" height="1"/><rect x="883" y="296" width="1" height="1"/><rect x="886" y="296" width="1" height="1"/><rect x="889" y="296" width="1" height="1"/><rect x="892" y="296" width="1" height="1"/><rect x="895" y="296" width="1" height="1"/><rect x="898" y="296" width="1" height="1"/><rect x="901" y="296" width="1" height="1"/><rect x="904" y="296" width="1" height="1"/><rect x="907" y="296" width="1" height="1"/><rect x="910" y="296" width="1" height="1"/><rect x="913" y="296" width="1" height="1"/><rect x="916" y="296" width="1" height="1"/><rect x="919" y="296" width="1" height="1"/><rect x="922" y="296" width="1" height="1"/><rect x="925" y="296" width="1" height="1"/><rect x="928" y="296" width="1" height="1"/><rect x="931" y="296" width="1" height="1"/><rect x="934" y="296" width="1" height="1"/><rect x="937" y="296" width="1" height="1"/><rect x="940" y="296" width="1" height="1"/><rect x="943" y="296" width="1" height="1"/><rect x="946" y="296" width="1" height="1"/><rect x="949" y="296" width="1" height="1"/><rect x="952" y="296" width="1" height="1"/><rect x="955" y="296" width="1" height="1"/><rect x="958" y="296" width="1" height="1"/><rect x="961" y="296" width="1" height="1"/><rect x="964" y="296" width="1" height="1"/><rect x="967" y="296" width="1" height="1"/><rect x="970" y="296" width="1" height="1"/><rect x="973" y="296" width="1" height="1"/><rect x="976" y="296" width="1" height="1"/><rect x="979" y="296" width="1" height="1"/><rect x="982" y="296" width="1" height="1"/><rect x="985" y="296" width="1" height="1"/><rect x="988" y="296" width="1" height="1"/><rect x="991" y="296" width="1" height="1"/><rect x="994" y="296" width="1" height="1"/><rect x="997" y="296" width="1" height="1"/><rect x="1000" y="296" width="1" height="1"/><rect x="1003" y="296" width="1" height="1"/><rect x="1006" y="296" width="1" height="1"/><rect x="1009" y="296" width="1" height="1"/><rect x="1012" y="296" width="1" height="1"/><rect x="1015" y="296" width="1" height="1"/><rect x="1018" y="296" width="1" height="1"/><rect x="1021" y="296" width="1" height="1"/><rect x="1024" y="296" width="1" height="1"/><rect x="1027" y="296" width="1" height="1"/><rect x="1030" y="296" width="1" height="1"/><rect x="1033" y="296" width="1" height="1"/><rect x="1036" y="296" width="1" height="1"/><rect x="1039" y="296" width="1" height="1"/><rect x="1042" y="296" width="1" height="1"/><rect x="1045" y="296" width="1" height="1"/><rect x="1048" y="296" width="1" height="1"/><rect x="1051" y="296" width="1" height="1"/><rect x="1054" y="296" width="1" height="1"/><rect x="1057" y="296" width="1" height="1"/><rect x="1060" y="296" width="1" height="1"/><rect x="1063" y="296" width="1" height="1"/><rect x="1066" y="296" width="1" height="1"/><rect x="1069" y="296" width="1" height="1"/><rect x="1072" y="296" width="1" height="1"/><rect x="1075" y="296" width="1" height="1"/><rect x="1078" y="296" width="1" height="1"/><rect x="1081" y="296" width="1" height="1"/><rect x="1084" y="296" width="1" height="1"/><rect x="1087" y="296" width="1" height="1"/><rect x="1090" y="296" width="1" height="1"/><rect x="1093" y="296" width="1" height="1"/><rect x="1096" y="296" width="1" height="1"/><rect x="1099" y="296" width="1" height="1"/><rect x="1102" y="296" width="1" height="1"/><rect x="1105" y="296" width="1" height="1"/><rect x="1108" y="296" width="1" height="1"/><rect x="1111" y="296" width="1" height="1"/><rect x="1114" y="296" width="1" height="1"/><rect x="1117" y="296" width="1" height="1"/><rect x="1120" y="296" width="1" height="1"/><rect x="1123" y="296" width="1" height="1"/><rect x="1126" y="296" width="1" height="1"/><rect x="1129" y="296" width="1" height="1"/><rect x="1132" y="296" width="1" height="1"/><rect x="1135" y="296" width="1" height="1"/><rect x="1138" y="296" width="1" height="1"/><rect x="1141" y="296" width="1" height="1"/><rect x="1144" y="296" width="1" height="1"/><rect x="1147" y="296" width="1" height="1"/><rect x="1150" y="296" width="1" height="1"/><rect x="1153" y="296" width="1" height="1"/><rect x="1156" y="296" width="1" height="1"/><rect x="1159" y="296" width="1" height="1"/><rect x="1162" y="296" width="1" height="1"/><rect x="1165" y="296" width="1" height="1"/><rect x="1168" y="296" width="1" height="1"/><rect x="1171" y="296" width="1" height="1"/><rect x="1174" y="296" width="1" height="1"/><rect x="1177" y="296" width="1" height="1"/><rect x="1180" y="296" width="1" height="1"/><rect x="1183" y="296" width="1" height="1"/><rect x="1186" y="296" width="1" height="1"/><rect x="1189" y="296" width="1" height="1"/><rect x="1192" y="296" width="1" height="1"/><rect x="1195" y="296" width="1" height="1"/><rect x="1198" y="296" width="1" height="1"/><rect x="1201" y="296" width="1" height="1"/><rect x="1204" y="296" width="1" height="1"/><rect x="1207" y="296" width="1" height="1"/>
</g>
</g>
<rect x="11" y="388" width="1264" height="1" fill="#e0e3eb" shape-rendering="crispEdges"/>
<g font-family="'Liberation Sans', sans-serif" font-size="12" fill="#131722">
<text x="1216.2" y="59.8" textLength="35.6" lengthAdjust="spacingAndGlyphs">11,000</text>
<text x="1216.2" y="113.8" textLength="35.6" lengthAdjust="spacingAndGlyphs">10,000</text>
<text x="1216.2" y="169.2" textLength="29.2" lengthAdjust="spacingAndGlyphs">9,000</text>
<text x="1216.2" y="223.3" textLength="29.2" lengthAdjust="spacingAndGlyphs">8,000</text>
<text x="1216.2" y="278.6" textLength="29.2" lengthAdjust="spacingAndGlyphs">7,000</text>
</g>
<path d="M1208 233h41a2 2 0 0 1 2 2v13a2 2 0 0 1 -2 2h-41z" fill="#2962ff"/>
<text x="1216.2" y="245" font-family="'Liberation Sans', sans-serif" font-size="12" fill="#fff" stroke="#fff" stroke-width="0.35" textLength="29.6" lengthAdjust="spacingAndGlyphs">7,330</text>
<path d="M1208 250h41a2 2 0 0 1 2 2v13a2 2 0 0 1 -2 2h-41z" fill="#faa1a4"/>
<text x="1216.2" y="262" font-family="'Liberation Sans', sans-serif" font-size="12" fill="#131722" textLength="29.6" lengthAdjust="spacingAndGlyphs">7,310</text>
<path d="M1208 271h41a2 2 0 0 1 2 2v13a2 2 0 0 1 -2 2h-41z" fill="#2962ff"/>
<text x="1216.2" y="283" font-family="'Liberation Sans', sans-serif" font-size="12" fill="#fff" stroke="#fff" stroke-width="0.35" textLength="29.6" lengthAdjust="spacingAndGlyphs">6,826</text>
<path d="M1208 288h41a2 2 0 0 1 2 2v13a2 2 0 0 1 -2 2h-41z" fill="#089981"/>
<text x="1216.2" y="300" font-family="'Liberation Sans', sans-serif" font-size="12" fill="#fff" stroke="#fff" stroke-width="0.35" textLength="29.6" lengthAdjust="spacingAndGlyphs">6,600</text>
<path d="M1208 305h41a2 2 0 0 1 2 2v13a2 2 0 0 1 -2 2h-41z" fill="#2196f3"/>
<text x="1216.2" y="317" font-family="'Liberation Sans', sans-serif" font-size="12" fill="#fff" stroke="#fff" stroke-width="0.35" textLength="29.6" lengthAdjust="spacingAndGlyphs">6,452</text>
<path d="M1208 322h41a2 2 0 0 1 2 2v13a2 2 0 0 1 -2 2h-41z" fill="#a5d6a7"/>
<text x="1216.2" y="334" font-family="'Liberation Sans', sans-serif" font-size="12" fill="#131722" textLength="29.6" lengthAdjust="spacingAndGlyphs">6,438</text>
<path d="M1208 339h41a2 2 0 0 1 2 2v13a2 2 0 0 1 -2 2h-41z" fill="#2962ff"/>
<text x="1216.2" y="351" font-family="'Liberation Sans', sans-serif" font-size="12" fill="#fff" stroke="#fff" stroke-width="0.35" textLength="29.6" lengthAdjust="spacingAndGlyphs">6,301</text>
<path d="M1208 356h41a2 2 0 0 1 2 2v13a2 2 0 0 1 -2 2h-41z" fill="#2962ff"/>
<text x="1216.2" y="368" font-family="'Liberation Sans', sans-serif" font-size="12" fill="#fff" stroke="#fff" stroke-width="0.35" textLength="29.6" lengthAdjust="spacingAndGlyphs">5,951</text>
<path d="M1208 373h62a2 2 0 0 1 2 2v13h-64z" fill="#26a69a"/>
<text x="1216.0" y="385" font-family="'Liberation Sans', sans-serif" font-size="12" fill="#fff" stroke="#fff" stroke-width="0.4" textLength="51.4" lengthAdjust="spacingAndGlyphs">998.923&#8201;K</text>
<text x="95.0" y="405.9" font-family="'Liberation Sans', sans-serif" font-size="12" font-weight="bold" fill="#131722" textLength="22.4" lengthAdjust="spacingAndGlyphs">May</text>
<text x="190.1" y="405.9" font-family="'Liberation Sans', sans-serif" font-size="12" fill="#131722" textLength="12.5" lengthAdjust="spacingAndGlyphs">13</text>
<text x="331.4" y="405.9" font-family="'Liberation Sans', sans-serif" font-size="12" font-weight="bold" fill="#131722" textLength="21.4" lengthAdjust="spacingAndGlyphs">Jun</text>
<text x="456.7" y="405.9" font-family="'Liberation Sans', sans-serif" font-size="12" font-weight="bold" fill="#131722" textLength="17.8" lengthAdjust="spacingAndGlyphs">Jul</text>
<text x="549.6" y="405.9" font-family="'Liberation Sans', sans-serif" font-size="12" fill="#131722" textLength="12.5" lengthAdjust="spacingAndGlyphs">15</text>
<text x="679.7" y="405.9" font-family="'Liberation Sans', sans-serif" font-size="12" font-weight="bold" fill="#131722" textLength="21.2" lengthAdjust="spacingAndGlyphs">Aug</text>
<text x="803.7" y="405.9" font-family="'Liberation Sans', sans-serif" font-size="12" font-weight="bold" fill="#131722" textLength="20.6" lengthAdjust="spacingAndGlyphs">Sep</text>
<text x="898.0" y="405.9" font-family="'Liberation Sans', sans-serif" font-size="12" fill="#131722" textLength="12.5" lengthAdjust="spacingAndGlyphs">15</text>
<text x="1028.6" y="405.9" font-family="'Liberation Sans', sans-serif" font-size="12" font-weight="bold" fill="#131722" textLength="19.4" lengthAdjust="spacingAndGlyphs">Oct</text>
<text x="1122.3" y="405.9" font-family="'Liberation Sans', sans-serif" font-size="12" fill="#131722" textLength="12.5" lengthAdjust="spacingAndGlyphs">13</text>
<g>
<text x="32.4" y="28.5" font-family="'DejaVu Sans', sans-serif" font-size="11" stroke="#131722" stroke-width="0.15" fill="#131722" textLength="84.4" lengthAdjust="spacingAndGlyphs">نمرینو-ایران مرینوس</text>
<text x="27.6" y="28.5" font-family="'Liberation Sans', sans-serif" font-size="12" fill="#131722" stroke="#131722" stroke-width="0.22">,</text>
<text x="18.1" y="28.5" font-family="'Liberation Sans', sans-serif" font-size="12" fill="#131722" stroke="#131722" stroke-width="0.22">1</text>
<text x="117.0" y="28.5" font-family="'Liberation Sans', sans-serif" font-size="12" fill="#131722" stroke="#131722" stroke-width="0.22">D,</text>
<text x="131.8" y="28.5" font-family="'DejaVu Sans', sans-serif" font-size="11" stroke="#131722" stroke-width="0.15" fill="#131722" textLength="24.2" lengthAdjust="spacingAndGlyphs">بورس</text>
<text x="162.8" y="28.5" font-family="'Liberation Sans', sans-serif" font-size="12" fill="#131722" stroke="#131722" stroke-width="0.22" textLength="8.2" lengthAdjust="spacingAndGlyphs">O</text>
<text x="171.0" y="28.5" font-family="'Liberation Sans', sans-serif" font-size="12" fill="#089981" stroke="#089981" stroke-width="0.22" textLength="29.6" lengthAdjust="spacingAndGlyphs">6,600</text>
<text x="207.4" y="28.5" font-family="'Liberation Sans', sans-serif" font-size="12" fill="#131722" stroke="#131722" stroke-width="0.22" textLength="8.0" lengthAdjust="spacingAndGlyphs">H</text>
<text x="215.6" y="28.5" font-family="'Liberation Sans', sans-serif" font-size="12" fill="#089981" stroke="#089981" stroke-width="0.22" textLength="29.6" lengthAdjust="spacingAndGlyphs">6,600</text>
<text x="252.0" y="28.5" font-family="'Liberation Sans', sans-serif" font-size="12" fill="#131722" stroke="#131722" stroke-width="0.22" textLength="6.2" lengthAdjust="spacingAndGlyphs">L</text>
<text x="258.2" y="28.5" font-family="'Liberation Sans', sans-serif" font-size="12" fill="#089981" stroke="#089981" stroke-width="0.22" textLength="29.6" lengthAdjust="spacingAndGlyphs">6,600</text>
<text x="295.2" y="28.5" font-family="'Liberation Sans', sans-serif" font-size="12" fill="#131722" stroke="#131722" stroke-width="0.22" textLength="7.6" lengthAdjust="spacingAndGlyphs">C</text>
<text x="302.9" y="28.5" font-family="'Liberation Sans', sans-serif" font-size="12" fill="#089981" stroke="#089981" stroke-width="0.22" textLength="29.6" lengthAdjust="spacingAndGlyphs">6,600</text>
<text x="339.3" y="28.5" font-family="'Liberation Sans', sans-serif" font-size="12" fill="#089981" stroke="#089981" stroke-width="0.22" textLength="67.2" lengthAdjust="spacingAndGlyphs">+50 (+0.76%)</text>
<text x="18.0" y="45.5" font-family="'Liberation Sans', sans-serif" font-size="12" fill="#131722" stroke="#131722" stroke-width="0.22" textLength="38.8" lengthAdjust="spacingAndGlyphs">Volume</text>
<text x="64.6" y="45.5" font-family="'Liberation Sans', sans-serif" font-size="12" fill="#26a69a" stroke="#26a69a" stroke-width="0.22" textLength="51.4" lengthAdjust="spacingAndGlyphs">998.923&#8201;K</text>
<text x="18.0" y="62.5" font-family="'Liberation Sans', sans-serif" font-size="12" fill="#131722" stroke="#131722" stroke-width="0.22" textLength="149.6" lengthAdjust="spacingAndGlyphs">Ichimoku (9, 26, 52, 26, 26)</text>
<text x="174.8" y="62.5" font-family="'Liberation Sans', sans-serif" font-size="12" fill="#a5d6a7" stroke="#a5d6a7" stroke-width="0.22" textLength="29.6" lengthAdjust="spacingAndGlyphs">6,438</text>
<text x="211.6" y="62.5" font-family="'Liberation Sans', sans-serif" font-size="12" fill="#ef9a9a" stroke="#ef9a9a" stroke-width="0.22" textLength="29.8" lengthAdjust="spacingAndGlyphs">7,310</text>
<text x="17.6" y="79.5" font-family="'Liberation Sans', sans-serif" font-size="12" fill="#131722" stroke="#131722" stroke-width="0.22" textLength="90.0" lengthAdjust="spacingAndGlyphs">MA (25, close, 0)</text>
<text x="115.2" y="79.5" font-family="'Liberation Sans', sans-serif" font-size="12" fill="#2196f3" stroke="#2196f3" stroke-width="0.22" textLength="29.8" lengthAdjust="spacingAndGlyphs">6,452</text>
</g>
<g transform="translate(10.1 425.95) scale(0.5417)"><path d="M14 22H7V11H0V4h14v18zM28 22h-8l7.5-18h8L28 22z" fill="#0c0e15"/><circle cx="20" cy="8" r="4" fill="#0c0e15"/></g>
<text x="32.5" y="437.7" font-family="'Liberation Sans', sans-serif" font-size="12.7" fill="#131722" textLength="70.8" lengthAdjust="spacingAndGlyphs">TradingView</text>
</svg>
</body>
</html>
